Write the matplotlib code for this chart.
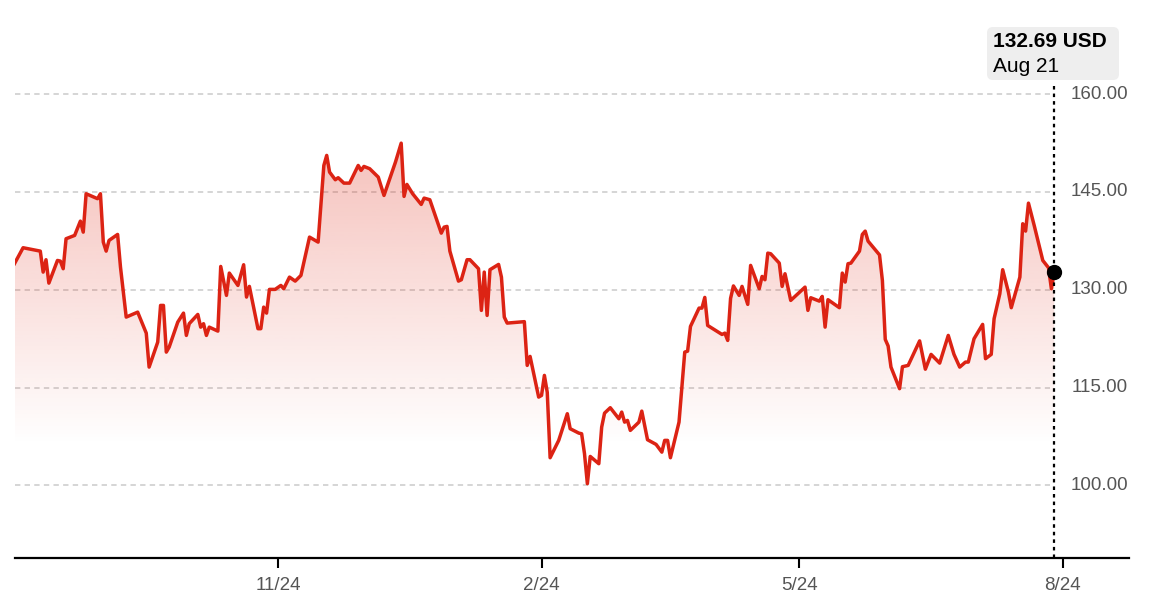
import numpy as np
import pandas as pd
import matplotlib
matplotlib.use("Agg")
import matplotlib.pyplot as plt
import matplotlib.dates as mdates
import matplotlib.transforms as mtransforms
from matplotlib.colors import to_rgb
from matplotlib.patches import Polygon, FancyBboxPatch

plt.rcParams['font.family'] = ['Liberation Sans', 'DejaVu Sans']

# =========================
# DATA
# =========================
dates = [
    "2023-08-24", "2023-08-27", "2023-09-02", "2023-09-03", "2023-09-04", "2023-09-05",
    "2023-09-08", "2023-09-09", "2023-09-10", "2023-09-11", "2023-09-14", "2023-09-16",
    "2023-09-17", "2023-09-18", "2023-09-22", "2023-09-23", "2023-09-24", "2023-09-25",
    "2023-09-26", "2023-09-29", "2023-09-30", "2023-10-02", "2023-10-06", "2023-10-09",
    "2023-10-10", "2023-10-13", "2023-10-14", "2023-10-15", "2023-10-16", "2023-10-17",
    "2023-10-20", "2023-10-22", "2023-10-23", "2023-10-24", "2023-10-27", "2023-10-28",
    "2023-10-29", "2023-10-30", "2023-10-31", "2023-11-03", "2023-11-04", "2023-11-06",
    "2023-11-07", "2023-11-10", "2023-11-12", "2023-11-13", "2023-11-14", "2023-11-17",
    "2023-11-18", "2023-11-19", "2023-11-20", "2023-11-21", "2023-11-23", "2023-11-25",
    "2023-11-26", "2023-11-28", "2023-11-30", "2023-12-02", "2023-12-05", "2023-12-08",
    "2023-12-10", "2023-12-11", "2023-12-12", "2023-12-14", "2023-12-15", "2023-12-17",
    "2023-12-19", "2023-12-22", "2023-12-23", "2023-12-24", "2023-12-26", "2023-12-29",
    "2023-12-31", "2024-01-04", "2024-01-06", "2024-01-07", "2024-01-08", "2024-01-10",
    "2024-01-13", "2024-01-14", "2024-01-16", "2024-01-20", "2024-01-21", "2024-01-22",
    "2024-01-23", "2024-01-26", "2024-01-27", "2024-01-29", "2024-01-30", "2024-02-02",
    "2024-02-03", "2024-02-04", "2024-02-05", "2024-02-06", "2024-02-09", "2024-02-10",
    "2024-02-11", "2024-02-12", "2024-02-18", "2024-02-19", "2024-02-20", "2024-02-23",
    "2024-02-24", "2024-02-25", "2024-02-26", "2024-02-27", "2024-03-01", "2024-03-04",
    "2024-03-05", "2024-03-08", "2024-03-09", "2024-03-10", "2024-03-11", "2024-03-12",
    "2024-03-15", "2024-03-16", "2024-03-17", "2024-03-19", "2024-03-22", "2024-03-23",
    "2024-03-24", "2024-03-25", "2024-03-26", "2024-03-29", "2024-03-30", "2024-04-01",
    "2024-04-04", "2024-04-06", "2024-04-07", "2024-04-08", "2024-04-09", "2024-04-12",
    "2024-04-14", "2024-04-15", "2024-04-16", "2024-04-19", "2024-04-20", "2024-04-21",
    "2024-04-22", "2024-04-27", "2024-04-28", "2024-04-29", "2024-04-30", "2024-05-01",
    "2024-05-03", "2024-05-04", "2024-05-06", "2024-05-07", "2024-05-10", "2024-05-11",
    "2024-05-12", "2024-05-13", "2024-05-14", "2024-05-17", "2024-05-18", "2024-05-19",
    "2024-05-21", "2024-05-26", "2024-05-27", "2024-05-28", "2024-05-31", "2024-06-01",
    "2024-06-02", "2024-06-03", "2024-06-07", "2024-06-08", "2024-06-09", "2024-06-10",
    "2024-06-11", "2024-06-14", "2024-06-15", "2024-06-16", "2024-06-17", "2024-06-21",
    "2024-06-22", "2024-06-23", "2024-06-24", "2024-06-25", "2024-06-28", "2024-06-29",
    "2024-07-01", "2024-07-05", "2024-07-07", "2024-07-09", "2024-07-12", "2024-07-15",
    "2024-07-17", "2024-07-19", "2024-07-21", "2024-07-22", "2024-07-24", "2024-07-27",
    "2024-07-28", "2024-07-30", "2024-07-31", "2024-08-02", "2024-08-03", "2024-08-05",
    "2024-08-06", "2024-08-09", "2024-08-10", "2024-08-11", "2024-08-12", "2024-08-14",
    "2024-08-17", "2024-08-19", "2024-08-20", "2024-08-21",
]
prices = [
    134.00, 136.44, 135.92, 132.70, 134.60, 131.01,
    134.49, 134.39, 133.22, 137.82, 138.33, 140.52,
    138.83, 144.72, 143.96, 144.72, 137.30, 135.92,
    137.56, 138.48, 133.47, 125.80, 126.56, 123.34,
    118.13, 121.96, 127.59, 127.59, 120.43, 121.20,
    125.03, 126.41, 122.99, 124.79, 126.21, 124.26,
    124.79, 122.99, 124.26, 123.65, 133.57, 129.13,
    132.55, 130.66, 133.83, 128.87, 130.51, 124.02,
    124.02, 127.33, 126.41, 130.05, 130.05, 130.66,
    130.15, 131.93, 131.32, 132.19, 138.07, 137.30,
    149.06, 150.60, 148.04, 146.87, 147.18, 146.35,
    146.35, 149.06, 148.30, 148.91, 148.56, 147.27,
    144.46, 149.57, 152.48, 144.31, 146.15, 144.72,
    143.08, 144.05, 143.80, 138.68, 139.60, 139.71,
    135.92, 131.32, 131.53, 134.60, 134.60, 133.22,
    126.83, 132.70, 126.06, 133.07, 133.88, 131.93,
    125.80, 124.88, 125.10, 118.39, 119.77, 113.53,
    113.79, 116.86, 114.25, 104.23, 106.89, 110.98,
    108.68, 108.01, 107.91, 104.85, 100.25, 104.43,
    103.31, 108.93, 111.07, 111.90, 110.21, 111.23,
    109.69, 109.95, 108.42, 109.69, 111.38, 106.99,
    106.27, 105.09, 106.89, 106.89, 104.23, 109.69,
    120.43, 120.58, 124.37, 127.18, 127.18, 128.82,
    124.52, 123.14, 123.34, 122.22, 128.67, 130.58,
    129.13, 130.51, 127.75, 133.73, 130.15, 132.04,
    131.53, 135.61, 135.52, 134.08, 130.51, 132.45,
    128.36, 130.40, 126.83, 128.77, 128.25, 128.97,
    124.26, 128.47, 127.24, 132.55, 131.17, 133.99,
    134.08, 135.92, 138.48, 138.99, 137.45, 135.34,
    131.43, 122.38, 121.38, 118.13, 114.82, 118.19,
    118.39, 122.15, 117.81, 120.08, 118.74, 122.99,
    120.08, 118.13, 118.90, 118.90, 122.48, 124.68,
    119.42, 120.08, 125.55, 129.39, 133.07, 129.63,
    127.24, 131.93, 140.12, 138.99, 143.28, 139.86,
    134.49, 133.37, 130.15, 132.69,
]
y_ticks = [100, 115, 130, 145, 160]
x_tick_dates = ["2023-11-24", "2024-02-24", "2024-05-24", "2024-08-24"]
x_tick_labels = ["11/24", "2/24", "5/24", "8/24"]
tip_value = "132.69 USD"
tip_date = "Aug 21"

# =========================
# STYLE
# =========================
line_color = "#dc2314"
fill_color = "#e0301e"
grid_color = "#cacaca"
label_color = "#555555"
W, H = 1154, 614

x = mdates.date2num(pd.to_datetime(dates))
y = np.array(prices)

fig = plt.figure(figsize=(W / 100, H / 100), dpi=100)
ax = fig.add_axes([14.5 / W, 56 / H, (1129 - 14.5) / W, (558 - 82) / H])

# gradient fill under the line, fading out just above the 100 line
y_low = 106
verts = np.column_stack([np.r_[x[0], x, x[-1]], np.r_[y_low, y, y_low]])
poly = Polygon(verts, closed=True, fc="none", ec="none")
ax.add_patch(poly)
n = 256
rgba = np.zeros((n, 1, 4))
rgba[..., :3] = to_rgb(fill_color)
rgba[:, 0, 3] = np.linspace(0.30, 0.0, n)
im = ax.imshow(rgba, extent=[x[0], x[-1], y_low, y.max()], aspect="auto",
               origin="upper", zorder=1, interpolation="bilinear")
im.set_clip_path(poly)

# dashed gridlines
ax.hlines(y_ticks, x[0], x[-1] - 1.5, colors=grid_color, linestyles=(0, (3.5, 2.8)),
          linewidth=1.1, zorder=0)

ax.plot(x, y, color=line_color, lw=2.5, zorder=3, solid_joinstyle="round")

# last value marker + dotted guide
ax.axvline(x[-1], color="black", lw=1.6, ls=(0, (1.6, 1.8)), zorder=4)
ax.plot(x[-1], y[-1], "o", ms=10, color="black", zorder=5, clip_on=False)

# y labels on the right, inside the axes
ytrans = ax.get_yaxis_transform()
for v in y_ticks:
    ax.text(0.999, v, f"{v:.2f}", transform=ytrans, ha="right", va="center",
            fontsize=13.5, color=label_color)

ax.set_xlim(x[0], x[0] + 389.1)
ax.set_ylim(88.85, 161.86)
ax.set_yticks([])
ax.set_xticks(mdates.date2num(pd.to_datetime(x_tick_dates)))
ax.set_xticklabels(x_tick_labels)
ax.tick_params(axis="x", length=7, width=1.5, color="black", pad=7,
               labelsize=13.5, labelcolor=label_color)
for side in ["left", "right", "top"]:
    ax.spines[side].set_visible(False)
ax.spines["bottom"].set_linewidth(1.6)
ax.spines["bottom"].set_color("black")

# tooltip box
box = FancyBboxPatch((987, H - 80), 132, 53,
                     boxstyle="round,pad=0,rounding_size=6",
                     transform=mtransforms.IdentityTransform(),
                     fc="#eeeeee", ec="none")
fig.add_artist(box)
fig.text(993 / W, 1 - 41.7 / H, tip_value, fontsize=15, fontweight="bold",
         ha="left", va="center", color="black")
fig.text(993 / W, 1 - 66.7 / H, tip_date, fontsize=15,
         ha="left", va="center", color="black")

fig.savefig("out.png", dpi=100)
